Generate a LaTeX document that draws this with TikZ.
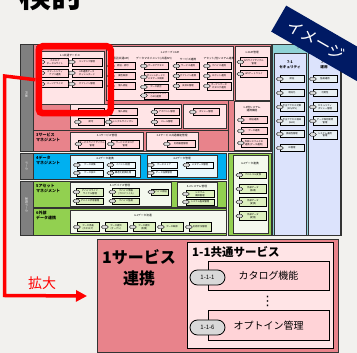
\documentclass[tikz,border=0pt]{standalone}
\usepackage{fontspec}
\setmainfont{Noto Sans CJK JP}
\newfontfamily\djv{DejaVu Sans}
\usetikzlibrary{shapes.misc,arrows.meta}
\definecolor{bg}{HTML}{F2F1EE}
\definecolor{pinkH}{HTML}{E8838B}
\definecolor{lpink}{HTML}{FFE4E6}
\definecolor{ipink}{HTML}{FFD3D7}
\definecolor{pillg}{HTML}{D9D9D9}
\definecolor{cyanH}{HTML}{00B0F0}
\definecolor{lcyan}{HTML}{E6F7FD}
\definecolor{icyan}{HTML}{F2FBFE}
\definecolor{greenH}{HTML}{92D050}
\definecolor{lgreen}{HTML}{F4F9EE}
\definecolor{igreen}{HTML}{DDF0BF}
\definecolor{grayC}{HTML}{7F7F7F}
\definecolor{tealH}{HTML}{8FD3D6}
\definecolor{lblue}{HTML}{DCE3FC}
\definecolor{iblue}{HTML}{E8EFF2}
\definecolor{navy}{HTML}{001A64}
\definecolor{frame}{HTML}{333333}
\definecolor{itemc}{HTML}{FFD3D7}
\newcommand\Rbx[6]{\node[rbx, fill=#6, anchor=north west, minimum width={#4-#2}, minimum height={#5-#3}] (#1) at (#2,#3) {};}
\newcommand\Mitm[6]{\node[mitem, minimum width=#4, minimum height=#5] (#1) at (#2,#3) {#6}; \node[mpill] (#1p) at (#1.west) {};}
\newcommand\Ttl[3]{\node[ttlf] at (#1,#2) {#3};}
\begin{document}
\begin{tikzpicture}[x=1pt,y=-1pt,
  rbx/.style={draw=frame, line width=0.8pt, inner sep=0pt, outer sep=0pt},
  mitem/.style={draw=black, line width=0.45pt, fill=itemc, inner sep=0.2pt, align=center, font=\fontsize{2.3}{2.6}\selectfont},
  mpill/.style={rounded rectangle, draw=black, line width=0.35pt, fill=pillg, minimum width=7pt, minimum height=3.4pt, inner sep=0pt},
  ttlf/.style={inner sep=0pt, align=center, font=\fontsize{2.7}{3}\selectfont},
  hdr/.style={inner sep=0pt, align=left, anchor=north west, font=\fontsize{4}{5}\selectfont\bfseries},
  vtxt/.style={inner sep=0pt, rotate=-90, text=white!85!grayC, font=\fontsize{3}{3.5}\selectfont},
  bigitem/.style={draw=black, line width=0.8pt, fill=ipink, minimum width=121pt, minimum height=29.5pt, inner sep=0pt, font=\fontsize{10}{12}\selectfont},
  bigpill/.style={rounded rectangle, draw=black, line width=0.8pt, fill=pillg, minimum width=35pt, minimum height=15pt, inner sep=0pt, font=\fontsize{6}{7}\selectfont},
  redline/.style={draw=red, line width=3.5pt}
]
\useasboundingbox (0,0) rectangle (357,353);
\fill[bg] (0,0) rectangle (357,353);

% title fragment
\node[anchor=base west, inner sep=0pt, font=\fontsize{32}{32}\selectfont\bfseries] (title) at (19,8) {検討};

% ===== left gray column
\Rbx{g1}{20}{44}{33}{151}{grayC}
\Rbx{g2}{20}{153}{33}{179}{grayC}
\Rbx{g3}{20}{181}{33}{235}{grayC}
\node[vtxt] at (26.5,95) {共通};
\node[vtxt] at (26.5,166) {データ};
\node[vtxt] at (26.5,205) {連携データ};

% ===== row regions
\Rbx{r1}{33}{44}{271}{151}{pinkH}
\draw[frame, line width=0.8pt] (33,130) -- (228,130);
\draw[frame, line width=0.8pt] (228,100) -- (228,151);
\Rbx{r4}{33}{153}{226}{179}{cyanH}
\Rbx{r5}{33}{181}{226}{207}{greenH}
\Rbx{r6}{33}{208}{226}{235}{greenH}
\Rbx{r62}{228}{153}{271}{235}{greenH}

% ===== row 1
\node[hdr] at (36,45.5) {\fontsize{2.8}{3}\selectfont 1サービス連携};
\Rbx{b11}{37}{51}{104}{104}{lpink}
\Ttl{70}{55}{1-1共通サービス}
\colorlet{itemc}{ipink}
\Mitm{i111}{55}{62}{27}{8}{カタログ\\ポータルサイト}
\Mitm{i112}{87}{62}{30}{8}{コンテンツ管理}
\Mitm{i113}{55}{73}{27}{8}{スマートシティ\\アプリ連携}
\Mitm{i114}{87}{73}{30}{8}{API連携データ\\ダッシュボード}
\Mitm{i115}{55}{84}{27}{7}{パーソナライズ}
\Mitm{i116}{87}{84}{30}{7}{オプトイン管理}

\Rbx{b12}{106}{46}{233}{100}{lpink}
\Ttl{170}{52}{1-2オープンAPI}
\Ttl{121}{59}{認証(共通API)}
\Ttl{154}{59}{データマネジメント(共通API)}
\Ttl{188}{59}{サービス連携}
\Ttl{219}{59}{アセット/他システム連携}
\Mitm{i121}{123}{66}{24}{7}{認証・認可}
\Mitm{i122}{123}{76}{24}{7}{属性取得}
\Mitm{i123}{123}{86}{24}{7}{個人認証}
\Mitm{i124}{156}{66}{24}{7}{データアクセス}
\Mitm{i125}{156}{77}{24}{9}{ダッシュボードと\\メタデータ検索}
\Mitm{i126}{156}{87}{24}{6}{データ統合}
\Mitm{i127}{156}{95.5}{24}{7}{シングルサインオン\\(SSO)連携}
\Mitm{i128}{188}{66}{23}{7}{サービス連携}
\Mitm{i129}{188}{76}{23}{7}{オプトイン連携}
\Mitm{i12a}{188}{86}{23}{7}{決済の管理}
\Mitm{i12b}{219}{66}{24}{7}{デバイス連携}
\Mitm{i12c}{219}{76}{24}{7}{ロボット連携}
\Mitm{i12d}{219}{86}{24}{8}{オープンデータ\\カタログ連携}

\Rbx{b13}{235}{46}{270}{100}{lpink}
\Ttl{252}{52}{1-3API管理}
\Mitm{i131}{254}{62}{27}{9}{APIライフサイクル\\管理}
\Mitm{i132}{254}{74}{27}{7}{APIゲートウェイ}

\Rbx{b14}{70}{104}{181}{128}{lpink}
\Mitm{i141}{91}{112}{26}{7}{認証}
\Mitm{i142}{91}{122}{26}{7}{認可}
\Mitm{i143}{123}{112}{28}{7}{個人認証}
\Mitm{i144}{123}{122}{28}{7}{シングルサインオン}
\Mitm{i145}{167}{112}{25}{7}{アカウント管理}
\Mitm{i146}{167}{122}{25}{7}{ロール管理}
\Rbx{b14b}{183}{104}{226}{128}{lpink}
\Mitm{i147}{206}{112}{26}{7}{ポリシー管理}

\Rbx{b15}{234}{101}{270}{150}{lpink}
\Ttl{252}{108.5}{1-4他システム\\連携機能}
\Mitm{i151}{254}{120}{26}{7}{認証連携}
\Mitm{i152}{254}{131}{26}{7}{データ連携}
\Mitm{i153}{254}{143}{26}{9}{外部システムとの\\連携(データ連携)}

% ===== row 3
\node[hdr] at (36,133) {3サービス\\マネジメント};
\Rbx{b31}{70}{132}{143}{150}{lpink}
\Ttl{107}{135}{3-1サービス管理}
\Mitm{i311}{92}{144}{27}{8}{サービスライフサイクル\\管理}
\Mitm{i312}{125}{144}{28}{8}{サービスカタログ\\管理}
\Rbx{b32}{146}{132}{198}{150}{lpink}
\Ttl{172}{135}{3-2サービス共通機能管理}
\Mitm{i321}{181}{144}{28}{7}{利用履歴管理}

% ===== row 4
\node[hdr] at (36,156) {4データ\\マネジメント};
\colorlet{itemc}{icyan}
\Rbx{b41}{70}{155}{140}{177}{lcyan}
\Ttl{105}{158}{4-1データ連携}
\Mitm{i411}{90}{165}{26}{6.5}{データ収集}
\Mitm{i412}{90}{173}{26}{6.5}{データ加工}
\Mitm{i413}{123}{165}{25}{6.5}{イベント処理}
\Mitm{i414}{123}{173}{25}{6.5}{構造化変換処理}
\Rbx{b42}{147}{155}{217}{177}{lcyan}
\Ttl{182}{158}{4-2データ管理}
\Mitm{i421}{164}{165}{26}{6.5}{データストア}
\Mitm{i422}{200}{165}{27}{6.5}{メタデータ管理}
\Mitm{i423}{164}{173}{26}{6.5}{データ品質管理}

% ===== row 5
\node[hdr] at (36,184) {5アセット\\マネジメント};
\colorlet{itemc}{igreen}
\Rbx{b51}{70}{182}{171}{206}{lgreen}
\Ttl{120}{185}{5-1デバイス管理}
\Mitm{i511}{90}{192}{27}{8}{デバイスライフ\\サイクル管理}
\Mitm{i512}{90}{201}{27}{6.5}{デバイス状態管理}
\Mitm{i513}{126}{192}{27}{8}{デバイス情報\\(プロファイル)}
\Mitm{i514}{126}{201}{27}{6.5}{デバイス監視}
\Mitm{i515}{160}{192}{17}{6.5}{デバイス認証}
\Rbx{b52}{177}{182}{217}{206}{lgreen}
\Ttl{197}{186}{5-2システム管理}
\Mitm{i521}{200}{194}{28}{7}{システム\\構成管理}
\Mitm{i522}{200}{202}{28}{6}{システム監視管理}

% ===== row 6
\node[hdr] at (36,211) {6外部\\データ連携};
\Rbx{b61}{70}{210}{226}{233}{lgreen}
\Ttl{143}{215}{6-1データ流通}
\Mitm{i611}{88}{227}{22}{9}{データ流通\\(カタログ)}
\Mitm{i612}{116}{227}{22}{9}{データ提供\\(オープン)}
\Mitm{i613}{144}{227}{22}{9}{データ提供\\(有償)}
\Mitm{i614}{172}{227}{22}{9}{データ取得}
\Mitm{i615}{200}{227}{22}{9}{利用状況管理}

% ===== right green column
\Rbx{b62}{233}{155}{268}{233}{lgreen}
\Ttl{250}{163}{6-2データ連携}
\Mitm{i621}{253}{175}{27}{6.5}{プロトコル変換}
\Mitm{i622}{253}{189}{27}{9}{外部データ\\(取得)}
\Mitm{i623}{253}{202}{27}{9}{外部データ\\(変換)}
\Mitm{i624}{253}{216}{27}{9}{外部データ\\(配信)}

% ===== right blue columns
\Rbx{b7}{272}{44}{341}{235}{tealH}
\Ttl{298}{48.5}{7}
\colorlet{itemc}{iblue}
\Rbx{b71}{274}{53}{306}{235}{lblue}
\node[ttlf, font=\fontsize{3.6}{4.5}\selectfont\bfseries] at (290,65) {7-1\\セキュリティ};
\Mitm{i711}{292}{79}{24}{7}{認証}
\Mitm{i712}{292}{93}{24}{7}{暗号化}
\Mitm{i713}{292}{107}{24}{9}{不正アクセス対策\\(IDS/IPS)}
\Mitm{i714}{292}{121}{24}{9}{不正アクセス検知\\(WAF)}
\Mitm{i715}{292}{134}{24}{7}{脆弱性管理}
\Mitm{i716}{292}{148}{24}{7}{ID管理}
\Rbx{b72}{308}{53}{340}{235}{lblue}
\node[ttlf, font=\fontsize{3.6}{4.5}\selectfont\bfseries] at (324,65) {7-2\\運用};
\Mitm{i721}{325}{79}{24}{7}{監視運用}
\Mitm{i722}{325}{93}{24}{7}{可用性}
\Mitm{i723}{325}{107}{24}{9}{セキュリティ\\ポリシー管理}
\Mitm{i724}{325}{121}{24}{9}{データ保存期間\\管理}
\Mitm{i725}{325}{134.5}{24}{9}{システム運用\\管理}

% ===== banner
\node[fill=navy, rotate=-30, anchor=west, minimum width=160pt, minimum height=30pt, inner sep=0pt] (banner) at (278.5,18.5) {};
\node[rotate=-30, anchor=west, inner sep=0pt, text=white, font=\fontsize{16}{16}\selectfont] (bannertxt) at (288.5,24) {イメージ};

% ===== red highlight
\node[draw=red, line width=6.5pt, rounded corners=4pt, minimum width=72pt, minimum height=67pt, anchor=north west, inner sep=0pt] (redbox) at (35.5,43) {};

% ===== enlarged box
\node[draw=frame, line width=1pt, fill=pinkH, anchor=north west, minimum width=241pt, minimum height=113pt, inner sep=0pt] (big) at (97,239) {};
\node[inner sep=0pt, align=center, font=\fontsize{16}{21}\selectfont\bfseries] (bigttl) at (139,268) {1サービス\\連携};
\node[draw=black, line width=0.8pt, fill=lpink, anchor=north west, minimum width=146pt, minimum height=106pt, inner sep=0pt] (inner) at (187,242) {};
\node[anchor=west, inner sep=0pt, font=\fontsize{11.5}{12}\selectfont\bfseries] (innerttl) at (192,252) {1-1共通サービス};
\node[bigitem] (cat) at (268.5,276) {カタログ機能};
\node[bigpill] (cp) at (207.5,277.5) {1-1-1};
\node[inner sep=0pt, font=\djv\fontsize{13}{13}\selectfont] (dots) at (267.5,301.5) {⋮};
\node[bigitem] (opt) at (268.5,325.5) {オプトイン管理};
\node[bigpill] (op) at (207.5,327.5) {1-1-6};

% ===== red connector
\coordinate (bend1) at (4.5,76);
\coordinate (bend2) at (4.5,295.5);
\draw[redline, -{Triangle[length=11pt,width=11pt]}] (redbox.west) -- (bend1) -- (bend2) -- ([xshift=-10pt]big.west);
\node[text=red, inner sep=0pt, font=\fontsize{14}{14}\selectfont] (zoomlbl) at (42,283) {拡大};
\end{tikzpicture}
\end{document}
